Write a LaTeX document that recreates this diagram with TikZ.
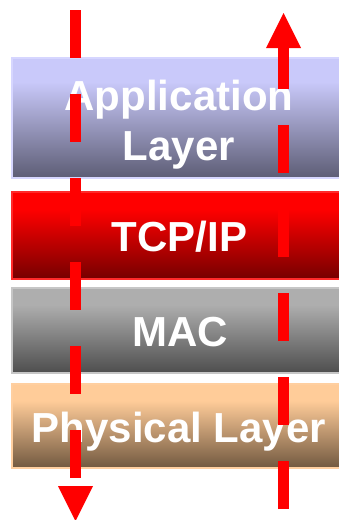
\documentclass[tikz,border=0pt]{standalone}
\usepackage{fontspec}
\setmainfont{Liberation Sans}
\usetikzlibrary{calc}

% layer colours: top, bottom, outline
\definecolor{apptop}{HTML}{C9C9FA}
\definecolor{appbot}{HTML}{5D5D75}
\definecolor{appedge}{HTML}{D6D6FF}
\definecolor{tcptop}{HTML}{FF0000}
\definecolor{tcpbot}{HTML}{760000}
\definecolor{tcpedge}{HTML}{FF2A2A}
\definecolor{mactop}{HTML}{AEAEAE}
\definecolor{macbot}{HTML}{4E4E4E}
\definecolor{macedge}{HTML}{C6C6C6}
\definecolor{phytop}{HTML}{FFCC99}
\definecolor{phybot}{HTML}{725940}
\definecolor{phyedge}{HTML}{FFCFA0}

% vertical shadings: flat near the top, darkening towards the bottom
\pgfdeclareverticalshading{appshade}{100bp}{color(0bp)=(appbot); color(25bp)=(appbot); color(65bp)=(apptop); color(100bp)=(apptop)}
\pgfdeclareverticalshading{tcpshade}{100bp}{color(0bp)=(tcpbot); color(25bp)=(tcpbot); color(65bp)=(tcptop); color(100bp)=(tcptop)}
\pgfdeclareverticalshading{macshade}{100bp}{color(0bp)=(macbot); color(25bp)=(macbot); color(65bp)=(mactop); color(100bp)=(mactop)}
\pgfdeclareverticalshading{physhade}{100bp}{color(0bp)=(phybot); color(25bp)=(phybot); color(65bp)=(phytop); color(100bp)=(phytop)}

\tikzset{
  layerbox/.style={shade, rectangle, anchor=north west, inner sep=0pt,
    minimum width=345pt, line width=1.5pt},
  layertext/.style={anchor=base, text=white, inner sep=0pt,
    font=\fontsize{42}{50}\selectfont\bfseries},
  flowline/.style={draw=red, line width=11pt, line cap=butt,
    dash pattern=on 48pt off 36pt},
  flowhead/.style={fill=red}
}

\begin{document}
\begin{tikzpicture}[x=1pt,y=-1pt]
  \useasboundingbox (0,0) rectangle (339,520);
  \clip (0,0) rectangle (339,520);

  % protocol layers
  \node[layerbox, shading=appshade, draw=appedge, minimum height=120pt] (app) at (11,57) {};
  \node[layerbox, shading=tcpshade, draw=tcpedge, minimum height=87pt] (tcp) at (11,191) {};
  \node[layerbox, shading=macshade, draw=macedge, minimum height=85pt] (mac) at (11,287) {};
  \node[layerbox, shading=physhade, draw=phyedge, minimum height=84pt] (phy) at (11,383) {};

  % layer names
  \node[layertext] (apptxt) at (179,110) {Application};
  \node[layertext] (apptxt2) at (179,160) {Layer};
  \node[layertext] (tcptxt) at (179.5,251) {TCP/IP};
  \node[layertext] (mactxt) at (180,346) {MAC};
  \node[layertext] (phytxt) at (179,442) {Physical Layer};

  % downward flow (sender side)
  \coordinate (downstart) at (75.5,10);
  \coordinate (downend) at (75.5,486);
  \coordinate (downtip) at (75.5,521);
  \draw[flowline] (downstart) -- (downend);
  \path[flowhead] ($(downend)+(-17.5,0)$) -- ($(downend)+(17.5,0)$) -- (downtip) -- cycle;

  % upward flow (receiver side)
  \coordinate (upstart) at (283.5,509);
  \coordinate (upend) at (283.5,48);
  \coordinate (uptip) at (283.5,13);
  \draw[flowline] (upstart) -- (upend);
  \path[flowhead] ($(upend)+(-17.5,0)$) -- ($(upend)+(17.5,0)$) -- (uptip) -- cycle;
\end{tikzpicture}
\end{document}
